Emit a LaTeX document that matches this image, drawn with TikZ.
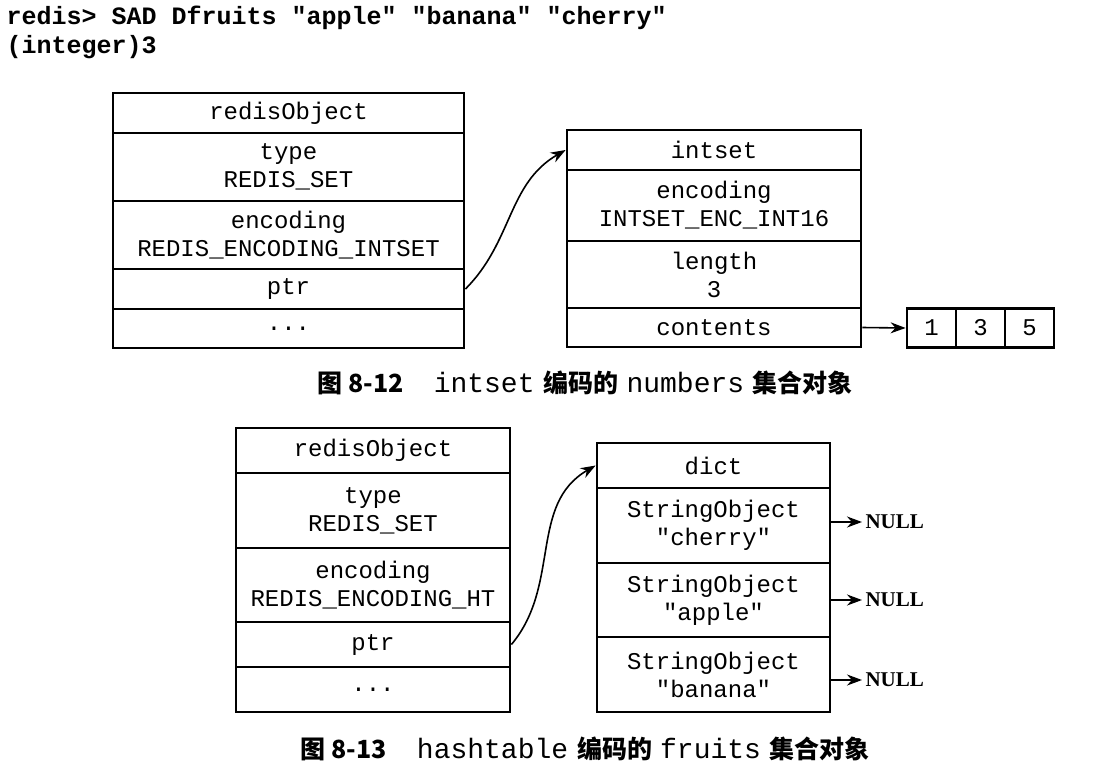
\documentclass[tikz,border=0pt]{standalone}
\usepackage{fontspec}
\setmainfont{Liberation Serif}
\setmonofont{Liberation Mono}
\newfontfamily\cjk{Noto Sans CJK SC}
\usepackage{tikz}
\usetikzlibrary{arrows.meta}

\newcommand\cjkb{\cjk\bfseries\fontsize{25}{30}\selectfont}
\newcommand\capmono{\ttfamily\fontsize{28}{30}\selectfont}

\begin{document}
\begin{tikzpicture}[x=1pt, y=-1pt, >={Stealth[length=15pt, width=11pt]},
        field/.style={draw, line width=2.8pt, inner sep=0pt, align=center,
            font=\ttfamily\fontsize{24}{28}\selectfont},
        ptr/.style={->, line width=1.6pt},
        nullbox/.style={anchor=west, font=\bfseries\fontsize{21}{24}\selectfont}]
    \useasboundingbox (0,0) rectangle (1119,782);

    \node[anchor=west, font=\ttfamily\bfseries\fontsize{25}{30}\selectfont] (cmd) at (3,18)
        {redis> SAD Dfruits "apple" "banana" "cherry"};
    \node[anchor=west, font=\ttfamily\bfseries\fontsize{25}{30}\selectfont] (reply) at (3,47)
        {(integer)3};

    \node[field, minimum width=351, minimum height=40] (obj1) at (288.5,113) {redisObject};
    \node[field, minimum width=351, minimum height=68] (type1) at (288.5,167) {type\\REDIS\_SET};
    \node[field, minimum width=351, minimum height=68] (enc1) at (288.5,235) {encoding\\REDIS\_ENCODING\_INTSET};
    \node[field, minimum width=351, minimum height=40] (ptr1) at (288.5,289) {ptr};
    \node[field, minimum width=351, minimum height=39] (rest1) at (288.5,328.5) {...};

    \node[field, minimum width=294, minimum height=40] (iset) at (714,150) {intset};
    \node[field, minimum width=294, minimum height=71] (isenc) at (714,205.5) {encoding\\INTSET\_ENC\_INT16};
    \node[field, minimum width=294, minimum height=67] (islen) at (714,274.5) {length\\3};
    \node[field, minimum width=294, minimum height=39] (iscont) at (714,327.5) {contents};

    \node[field, minimum width=49, minimum height=39] (num1) at (931.5,328) {1};
    \node[field, minimum width=49, minimum height=39] (num2) at (980.5,328) {3};
    \node[field, minimum width=49, minimum height=39] (num3) at (1029.5,328) {5};

    \draw[ptr] (ptr1.east) to[out=45, in=210] (iset.west);
    \draw[ptr] (iscont.east) -- (num1.west);

    \node (cap1) at (585,383) {{\cjkb 图 8-12}\hspace{30pt}{\capmono intset}\hspace{9pt}{\cjkb 编码的}\hspace{8pt}{\capmono numbers}\hspace{8pt}{\cjkb 集合对象}};

    \node[field, minimum width=274, minimum height=45] (obj2) at (373,450.5) {redisObject};
    \node[field, minimum width=274, minimum height=75] (type2) at (373,510.5) {type\\REDIS\_SET};
    \node[field, minimum width=274, minimum height=74] (enc2) at (373,585) {encoding\\REDIS\_ENCODING\_HT};
    \node[field, minimum width=274, minimum height=45] (ptr2) at (373,644.5) {ptr};
    \node[field, minimum width=274, minimum height=45] (rest2) at (373,689.5) {...};

    \node[field, minimum width=233, minimum height=45] (dict) at (713.5,465.5) {dict};
    \node[field, minimum width=233, minimum height=75] (str1) at (713.5,525.5) {StringObject\\"cherry"};
    \node[field, minimum width=233, minimum height=74] (str2) at (713.5,600) {StringObject\\"apple"};
    \node[field, minimum width=233, minimum height=75] (str3) at (713.5,674.5) {StringObject\\"banana"};

    \node[nullbox] (null1) at (862,522) {NULL};
    \node[nullbox] (null2) at (862,600) {NULL};
    \node[nullbox] (null3) at (862,680) {NULL};

    \draw[ptr] (ptr2.east) to[out=50, in=210] (dict.west);
    \draw[ptr] (str1.east |- null1.west) -- (null1.west);
    \draw[ptr] (str2.east |- null2.west) -- (null2.west);
    \draw[ptr] (str3.east |- null3.west) -- (null3.west);

    \node (cap2) at (585,749) {{\cjkb 图 8-13}\hspace{30pt}{\capmono hashtable}\hspace{9pt}{\cjkb 编码的}\hspace{8pt}{\capmono fruits}\hspace{8pt}{\cjkb 集合对象}};
\end{tikzpicture}
\end{document}
